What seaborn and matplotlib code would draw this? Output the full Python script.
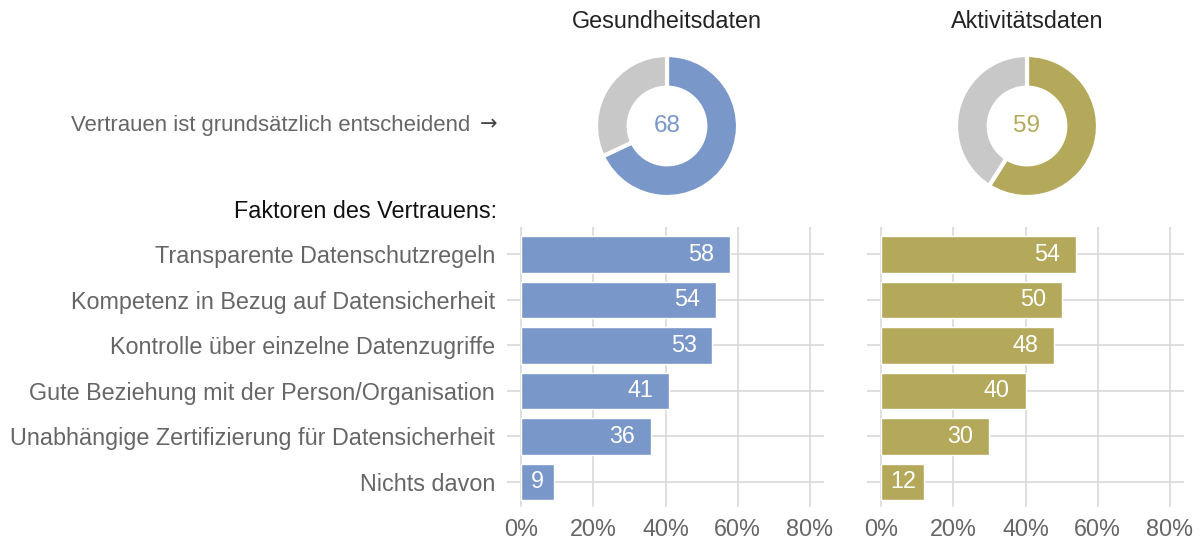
import pandas as pd
import numpy as np
import matplotlib
matplotlib.use("Agg")
import matplotlib.pyplot as plt
import seaborn as sns

# data
factors = [
    "Transparente Datenschutzregeln",
    "Kompetenz in Bezug auf Datensicherheit",
    "Kontrolle über einzelne Datenzugriffe",
    "Gute Beziehung mit der Person/Organisation",
    "Unabhängige Zertifizierung für Datensicherheit",
    "Nichts davon",
]
health_vals = [58, 54, 53, 41, 36, 9]
activity_vals = [54, 50, 48, 40, 30, 12]
panel_titles = ["Gesundheitsdaten", "Aktivitätsdaten"]
trust_vals = [68, 59]
x_ticks = [0, 20, 40, 60, 80]
x_ticklabels = ["0%", "20%", "40%", "60%", "80%"]

blue = "#7997c9"
olive = "#b4a95a"
rest_grey = "#c8c8c8"
grid_col = "#d9d9d9"
label_grey = "#666666"
FS = 16.8

sns.set_style("white")
plt.rcParams['font.family'] = ['Liberation Sans', 'DejaVu Sans']

W, H = 1200, 540
fig = plt.figure(figsize=(12, 5.4), dpi=100)


def px_axes(x0, y0, x1, y1):
    # pixel box (top-left origin) -> figure axes
    return fig.add_axes([x0 / W, 1 - y1 / H, (x1 - x0) / W, (y1 - y0) / H])


df = pd.DataFrame({
    "factor": factors * 2,
    "value": health_vals + activity_vals,
    "panel": [panel_titles[0]] * len(factors) + [panel_titles[1]] * len(factors),
})

bar_boxes = [(507, 227, 824, 507), (867, 227, 1184, 507)]
donut_centres = [(667, 126), (1027, 126)]
colours = [blue, olive]

for i, name in enumerate(panel_titles):
    ax = px_axes(*bar_boxes[i])
    sub = df[df["panel"] == name]
    sns.barplot(data=sub, x="value", y="factor", order=factors, color=colours[i],
                orient="h", width=0.8, saturation=1, ax=ax, zorder=3)
    ax.set_xlim(-3.9, 83.9)
    ax.set_ylim(len(factors) - 0.45, -0.6)
    ax.set_xticks(x_ticks)
    ax.set_xticklabels(x_ticklabels)
    ax.set_xlabel("")
    ax.set_ylabel("")
    ax.grid(True, color=grid_col, linewidth=1.2, zorder=0)
    ax.set_axisbelow(True)
    for s in ax.spines.values():
        s.set_visible(False)
    ax.tick_params(axis="both", length=0, labelsize=FS, colors=label_grey)
    ax.tick_params(axis="y", pad=8.5)
    ax.tick_params(axis="x", pad=8)
    if i == 1:
        ax.set_yticklabels([])
    # value labels inside the bars
    for j, v in enumerate(sub["value"]):
        ax.text(max(v - 8, v / 2), j, str(v), ha="center", va="center",
                color="white", fontsize=FS, zorder=4)

    # donut above each bar panel
    cx, cy = donut_centres[i]
    r = 71
    dax = px_axes(cx - r, cy - r, cx + r, cy + r)
    dax.pie([trust_vals[i], 100 - trust_vals[i]], colors=[colours[i], rest_grey],
            startangle=90, counterclock=False, radius=1,
            wedgeprops=dict(width=0.46, edgecolor="white", linewidth=3))
    dax.set_xlim(-1, 1)
    dax.set_ylim(-1, 1)
    dax.set_aspect("equal")
    dax.axis("off")
    dax.text(0, 0, str(trust_vals[i]), ha="center", va="center",
             fontsize=17.5, color=colours[i])
    fig.text(cx / W, 1 - 22 / H, name, ha="center", va="center",
             fontsize=FS, color="#222222")

fig.text(470 / W, 1 - 125 / H, "Vertrauen ist grundsätzlich entscheidend",
         ha="right", va="center", fontsize=15.9, color=label_grey)
fig.text(497 / W, 1 - 124 / H, "→", ha="right", va="center", fontsize=15,
         color="#444444", family="DejaVu Sans")
fig.text(497 / W, 1 - 212 / H, "Faktoren des Vertrauens:",
         ha="right", va="center", fontsize=FS, color="#111111")

fig.savefig("out.png", dpi=100)
